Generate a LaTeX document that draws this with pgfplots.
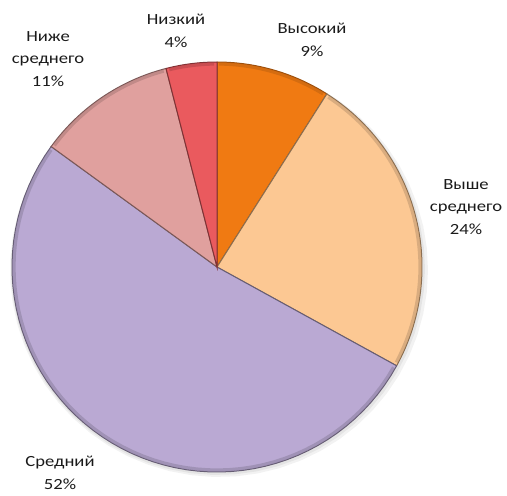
\documentclass[border=0pt]{standalone}
\usepackage{pgfplots}
\pgfplotsset{compat=1.18}
\usepackage{fontspec}
\setmainfont{Carlito}
\definecolor{cHigh}{HTML}{F07A12}
\definecolor{cAbove}{HTML}{FCC893}
\definecolor{cMid}{HTML}{BAA9D3}
\definecolor{cBelow}{HTML}{E0A09E}
\definecolor{cLow}{HTML}{EA5A5E}
\definecolor{txt}{HTML}{1A1A1A}
\tikzset{lbl/.style={font=\fontsize{7.75}{11.25}\selectfont, text=txt, align=center, xscale=1.2, inner sep=0pt}}
% shares (%): Высокий 9, Выше среднего 24, Средний 52, Ниже среднего 11, Низкий 4
% start at 90 deg, clockwise: angle = 90 - 3.6*cumulative
\begin{document}
\begin{tikzpicture}
\path[use as bounding box] (0,0) rectangle (253.5pt,247.5pt);
\clip (0,0) rectangle (253.5pt,247.5pt);
\begin{axis}[at={(0,0)}, anchor=south west, width=253.5pt, height=247.5pt,
  scale only axis, hide axis, xmin=0, xmax=507, ymin=0, ymax=495, y dir=reverse,
  clip=false, samples=60, variable=\t]
% soft shadow
\addplot[draw=none, fill=black, opacity=0.05, domain=0:360] ({219+209*cos(t)},{270-207*sin(t)}) -- cycle;
\addplot[draw=none, fill=black, opacity=0.06, domain=0:360] ({218+207*cos(t)},{269-206*sin(t)}) -- cycle;
% slices
\addplot[fill=cHigh, draw=cHigh!65!black, line width=0.5pt, domain=57.6:90] ({217+205*cos(t)},{267-205*sin(t)}) -- (axis cs:217,267) -- cycle;
\addplot[fill=cAbove, draw=cAbove!55!black, line width=0.5pt, domain=-28.8:57.6] ({217+205*cos(t)},{267-205*sin(t)}) -- (axis cs:217,267) -- cycle;
\addplot[fill=cMid, draw=cMid!55!black, line width=0.5pt, domain=-216:-28.8] ({217+205*cos(t)},{267-205*sin(t)}) -- (axis cs:217,267) -- cycle;
\addplot[fill=cBelow, draw=cBelow!55!black, line width=0.5pt, domain=-255.6:-216] ({217+205*cos(t)},{267-205*sin(t)}) -- (axis cs:217,267) -- cycle;
\addplot[fill=cLow, draw=cLow!55!black, line width=0.5pt, domain=-270:-255.6] ({217+205*cos(t)},{267-205*sin(t)}) -- (axis cs:217,267) -- cycle;
% rim bevel
\addplot[draw=cHigh!75!black, line width=1.6pt, opacity=0.45, domain=58.5:89.5] ({217+203*cos(t)},{267-203*sin(t)});
\addplot[draw=cAbove!70!black, line width=1.6pt, opacity=0.45, domain=-28:56.8] ({217+203*cos(t)},{267-203*sin(t)});
\addplot[draw=cMid!70!black, line width=1.6pt, opacity=0.45, domain=-215.2:-29.6] ({217+203*cos(t)},{267-203*sin(t)});
\addplot[draw=cBelow!70!black, line width=1.6pt, opacity=0.45, domain=-254.8:-216.8] ({217+203*cos(t)},{267-203*sin(t)});
\addplot[draw=cLow!70!black, line width=1.6pt, opacity=0.45, domain=-269.2:-256.4] ({217+203*cos(t)},{267-203*sin(t)});
% labels
\node[lbl] at (axis cs:176,31) {Низкий\\4\%};
\node[lbl] at (axis cs:312,40) {Высокий\\9\%};
\node[lbl] at (axis cs:48,59) {Ниже\\среднего\\11\%};
\node[lbl] at (axis cs:466,207) {Выше\\среднего\\24\%};
\node[lbl] at (axis cs:60,473) {Средний\\52\%};
\end{axis}
\end{tikzpicture}
\end{document}
